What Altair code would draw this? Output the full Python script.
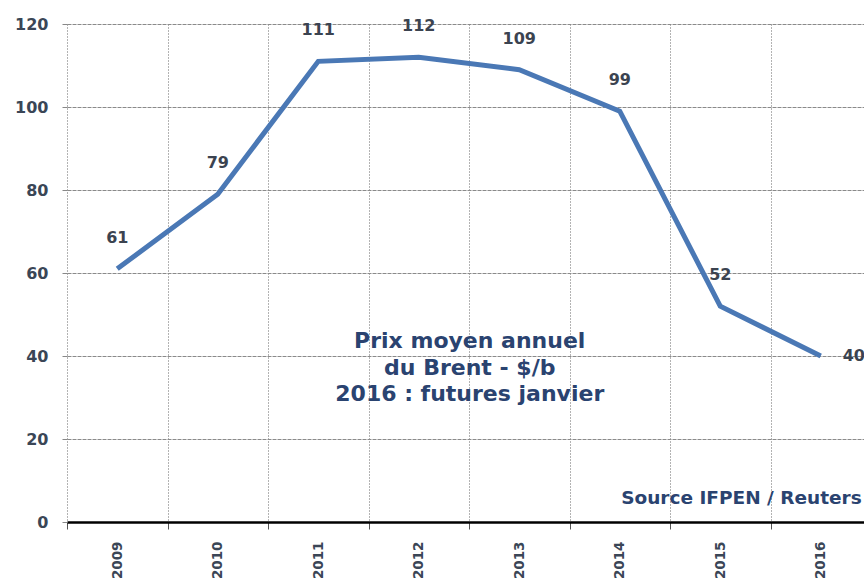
import altair as alt
import pandas as pd

years = ["2009", "2010", "2011", "2012", "2013", "2014", "2015", "2016"]
prices = [61, 79, 111, 112, 109, 99, 52, 40]
labels = ["61", "79", "111", "112", "109", "99", "52", "40"]

note_lines = ["Prix moyen annuel", "du Brent - $/b", "2016 : futures janvier"]
note_year = ["2012", "2012", "2012"]
note_y = [43.6, 37.1, 30.8]

source_text = ["Source IFPEN / Reuters"]
source_year = ["2016"]
source_y = [5.8]

df = pd.DataFrame({"year": years, "price": prices, "label": labels})
notes = pd.DataFrame({"year": note_year, "y": note_y, "text": note_lines})
src = pd.DataFrame({"year": source_year, "y": source_y, "text": source_text})

LABEL_COLOR = "#3a4656"
NAVY = "#2a4370"
FONT = "DejaVu Sans"

xscale = alt.Scale(range=[0, 804], paddingInner=0, paddingOuter=0)
yscale = alt.Scale(domain=[0, 120], nice=False)

x_axis = alt.Axis(
    title=None, orient="bottom", tickBand="extent",
    domain=True, domainColor="#000000", domainWidth=2.5,
    ticks=True, tickColor="#555555", tickSize=7,
    grid=True, gridColor="#666666", gridDash=[1, 2], gridWidth=1,
    labelAngle=270, labelFont=FONT, labelFontSize=13.5, labelFontWeight="bold",
    labelColor=LABEL_COLOR, labelPadding=12,
)
y_axis = alt.Axis(
    title=None, values=[0, 20, 40, 60, 80, 100, 120],
    domain=False, ticks=True, tickColor="#888888", tickSize=5,
    grid=True, gridColor="#8a8a8a", gridDash=[4, 1], gridWidth=1.2,
    labelFont=FONT, labelFontSize=16, labelFontWeight="bold",
    labelColor=LABEL_COLOR, labelPadding=14,
)

base = alt.Chart(df)

line = base.mark_line(color="#4a78b5", strokeWidth=5).encode(
    x=alt.X("year:N", scale=xscale, axis=x_axis, sort=years),
    y=alt.Y("price:Q", scale=yscale, axis=y_axis),
)

vals = base.transform_filter(alt.datum.year != "2016").mark_text(
    font=FONT, fontSize=16, fontWeight="bold", color="#3b4350", dy=-31
).encode(x=alt.X("year:N", sort=years), y="price:Q", text="label:N")

last = base.transform_filter(alt.datum.year == "2016").mark_text(
    font=FONT, fontSize=16, fontWeight="bold", color="#3b4350", dx=33
).encode(x=alt.X("year:N", sort=years), y="price:Q", text="label:N")

note = alt.Chart(notes).mark_text(
    font=FONT, fontSize=22, fontWeight="bold", color=NAVY, dx=51
).encode(x=alt.X("year:N", sort=years), y="y:Q", text="text:N")

source = alt.Chart(src).mark_text(
    font=FONT, fontSize=18.5, fontWeight="bold", color=NAVY, align="right", dx=41
).encode(x=alt.X("year:N", sort=years), y="y:Q", text="text:N")

chart = alt.layer(line, vals, last, note, source).properties(
    width=797, height=498,
    autosize=alt.AutoSizeParams(type="none"),
    padding={"left": 67, "top": 24, "right": 0, "bottom": 60},
    background="white",
).configure_view(strokeWidth=0)

chart.save("out.html", embed_options={"renderer": "svg", "actions": False})
